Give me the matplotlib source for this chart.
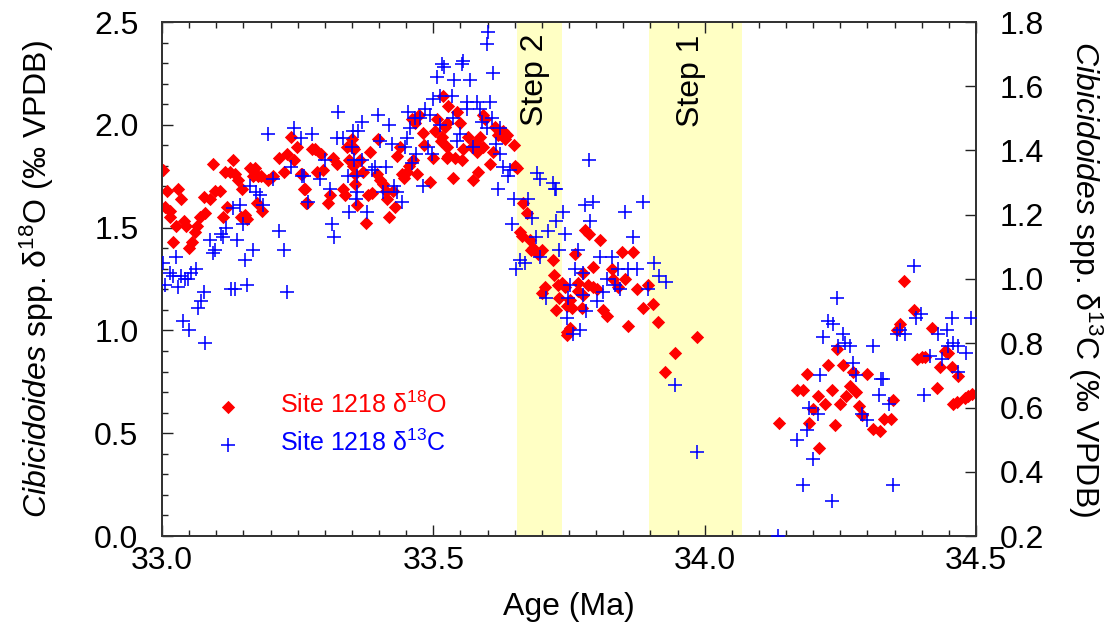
import numpy as np
import matplotlib
matplotlib.use('Agg')
import matplotlib.pyplot as plt
from matplotlib.ticker import MultipleLocator

plt.rcParams['font.family'] = ['Liberation Sans', 'DejaVu Sans']
plt.rcParams['mathtext.fontset'] = 'custom'
plt.rcParams['mathtext.rm'] = 'Liberation Sans'
plt.rcParams['mathtext.it'] = 'Liberation Sans:italic'

# Site 1218 benthic d18O (left axis)
d18o_age = [33.002, 33.01, 33.03, 33.035, 33.005, 33.015, 33.015, 33.025, 33.04, 33.045,
            33.02, 33.06, 33.065, 33.055, 33.05, 33.07, 33.08, 33.077, 33.088, 33.094,
            33.098, 33.107, 33.112, 33.12, 33.116, 33.13, 33.125, 33.135, 33.14, 33.147,
            33.146, 33.153, 33.157, 33.162, 33.171, 33.168, 33.177, 33.182, 33.195, 33.205,
            33.175, 33.184, 33.216, 33.23, 33.225, 33.238, 33.243, 33.249, 33.256, 33.262,
            33.265, 33.276, 33.282, 33.293, 33.297, 33.286, 33.258, 33.264, 33.267, 33.306,
            33.31, 33.315, 33.323, 33.334, 33.337, 33.345, 33.341, 33.35, 33.352, 33.354,
            33.352, 33.356, 33.356, 33.36, 33.365, 33.37, 33.376, 33.383, 33.38, 33.387,
            33.398, 33.396, 33.402, 33.407, 33.413, 33.415, 33.418, 33.426, 33.429, 33.433,
            33.439, 33.442, 33.446, 33.451, 33.455, 33.463, 33.47, 33.461, 33.466, 33.474,
            33.481, 33.483, 33.494, 33.499, 33.503, 33.507, 33.514, 33.518, 33.525, 33.525,
            33.527, 33.521, 33.543, 33.549, 33.516, 33.525, 33.527, 33.54, 33.553, 33.555,
            33.564, 33.571, 33.577, 33.586, 33.58, 33.592, 33.536, 33.573, 33.582, 33.592,
            33.595, 33.604, 33.61, 33.614, 33.619, 33.628, 33.636, 33.632, 33.649, 33.65,
            33.654, 33.665, 33.672, 33.66, 33.663, 33.678, 33.684, 33.68, 33.693, 33.70,
            33.72, 33.722, 33.706, 33.70, 33.729, 33.732, 33.726, 33.746, 33.746, 33.779,
            33.787, 33.807, 33.761, 33.794, 33.848, 33.868, 33.829, 33.831, 33.853, 33.84,
            33.875, 33.896, 33.737, 33.743, 33.767, 33.776, 33.785, 33.794, 33.801, 33.767,
            33.776, 33.752, 33.755, 33.774, 33.813, 33.82, 33.886, 33.905, 33.914, 33.859,
            33.752, 33.746, 33.986, 33.945, 33.927,
            34.137, 34.17, 34.181, 34.189, 34.192, 34.2, 34.209, 34.211, 34.222, 34.227,
            34.235, 34.24, 34.244, 34.249, 34.255, 34.26, 34.268, 34.273, 34.279, 34.284,
            34.29, 34.299, 34.31, 34.323, 34.33, 34.343, 34.347, 34.354, 34.36, 34.367,
            34.386, 34.391, 34.40, 34.406, 34.419, 34.428, 34.434, 34.443, 34.449, 34.456,
            34.458, 34.465, 34.467, 34.48, 34.485, 34.493]
d18o = [1.78, 1.68, 1.69, 1.64, 1.60, 1.58, 1.55, 1.51, 1.53, 1.51,
        1.43, 1.48, 1.51, 1.43, 1.40, 1.55, 1.57, 1.65, 1.64, 1.81,
        1.68, 1.68, 1.55, 1.60, 1.77, 1.83, 1.77, 1.76, 1.73, 1.69,
        1.55, 1.56, 1.54, 1.79, 1.79, 1.75, 1.75, 1.75, 1.73, 1.75,
        1.62, 1.58, 1.84, 1.86, 1.77, 1.94, 1.83, 1.89, 1.76, 1.69,
        1.62, 1.88, 1.88, 1.86, 1.78, 1.77, 1.76, 1.69, 1.62, 1.62,
        1.66, 1.84, 1.81, 1.69, 1.66, 1.83, 1.89, 1.93, 1.89, 1.88,
        1.80, 1.76, 1.71, 1.61, 1.83, 1.77, 1.52, 1.87, 1.66, 1.67,
        1.93, 1.76, 1.73, 1.71, 1.68, 1.64, 1.55, 1.68, 1.60, 1.85,
        1.89, 1.76, 1.74, 1.77, 1.80, 1.83, 1.76, 2.03, 2.01, 2.05,
        1.96, 1.90, 1.72, 1.84, 1.97, 2.03, 1.92, 2.14, 2.01, 1.84,
        2.09, 1.99, 2.06, 2.01, 1.94, 1.89, 1.85, 1.84, 1.83, 1.88,
        1.94, 1.89, 1.91, 1.94, 1.87, 1.89, 1.74, 1.73, 1.77, 2.05,
        2.03, 1.81, 1.87, 1.99, 1.95, 1.97, 1.95, 1.93, 1.90, 1.80,
        1.79, 1.62, 1.57, 1.48, 1.46, 1.44, 1.40, 1.39, 1.37, 1.39,
        1.34, 1.27, 1.21, 1.18, 1.22, 1.16, 1.10, 1.12, 0.99, 1.49,
        1.47, 1.44, 1.37, 1.31, 1.38, 1.38, 1.30, 1.25, 1.25, 1.21,
        1.20, 1.22, 1.23, 1.21, 1.23, 1.28, 1.22, 1.21, 1.20, 1.19,
        1.17, 1.15, 1.11, 1.11, 1.10, 1.07, 1.11, 1.13, 1.04, 1.02,
        1.01, 0.98, 0.97, 0.89, 0.80,
        0.55, 0.71, 0.71, 0.79, 0.55, 0.62, 0.68, 0.43, 0.64, 0.83,
        0.71, 0.54, 0.91, 0.64, 0.83, 0.68, 0.73, 0.80, 0.70, 0.63,
        0.59, 0.79, 0.52, 0.51, 0.57, 0.57, 0.66, 1.00, 1.03, 1.24,
        1.10, 0.86, 0.87, 0.87, 1.01, 0.72, 0.82, 0.90, 0.89, 0.82,
        0.64, 0.65, 0.78, 0.67, 0.68, 0.69]

# Site 1218 benthic d13C (right axis)
d13c_age = [33.002, 33.005, 33.015, 33.02, 33.026, 33.03, 33.035, 33.042, 33.048, 33.053,
            33.063, 33.039, 33.05, 33.066, 33.072, 33.077, 33.08, 33.088, 33.094, 33.098,
            33.109, 33.112, 33.118, 33.127, 33.135, 33.13, 33.144, 33.138, 33.149, 33.153,
            33.157, 33.168, 33.162, 33.173, 33.18, 33.186, 33.195, 33.205, 33.216, 33.225,
            33.23, 33.243, 33.256, 33.238, 33.262, 33.276, 33.258, 33.291, 33.30, 33.31,
            33.313, 33.317, 33.269, 33.323, 33.325, 33.334, 33.343, 33.345, 33.35, 33.352,
            33.354, 33.361, 33.36, 33.36, 33.358, 33.369, 33.369, 33.378, 33.387, 33.393,
            33.398, 33.402, 33.407, 33.413, 33.418, 33.424, 33.428, 33.433, 33.442, 33.451,
            33.457, 33.448, 33.461, 33.468, 33.481, 33.453, 33.466, 33.476, 33.485, 33.49,
            33.497, 33.494, 33.499, 33.507, 33.516, 33.52, 33.512, 33.512, 33.601, 33.599,
            33.61, 33.553, 33.555, 33.538, 33.568, 33.534, 33.562, 33.562, 33.58, 33.586,
            33.604, 33.608, 33.536, 33.59, 33.599, 33.623, 33.549, 33.543, 33.573, 33.616,
            33.623, 33.628, 33.641, 33.638, 33.619, 33.649, 33.674, 33.691, 33.697, 33.72,
            33.724, 33.726, 33.739, 33.726, 33.682, 33.645, 33.69, 33.711, 33.743, 33.732,
            33.697, 33.66, 33.669, 33.652, 33.707, 33.787, 33.779, 33.794, 33.789, 33.853,
            33.886, 33.868, 33.767, 33.807, 33.829, 33.761, 33.776, 33.82, 33.84, 33.859,
            33.875, 33.907, 33.916, 33.929, 33.835, 33.844, 33.896, 33.752, 33.776, 33.813,
            33.748, 33.801, 33.781, 33.746, 33.77, 33.757, 33.945, 33.986,
            34.135, 34.17, 34.181, 34.189, 34.192, 34.2, 34.209, 34.213, 34.218, 34.227,
            34.237, 34.235, 34.244, 34.246, 34.255, 34.258, 34.268, 34.273, 34.279, 34.29,
            34.299, 34.31, 34.321, 34.325, 34.329, 34.34, 34.347, 34.354, 34.36, 34.369,
            34.386, 34.389, 34.398, 34.404, 34.415, 34.43, 34.437, 34.446, 34.449, 34.456,
            34.458, 34.467, 34.467, 34.481, 34.49]
d13c = [1.05, 0.98, 1.02, 1.01, 1.07, 0.975, 1.01, 1.00, 1.00, 1.02,
        1.03, 0.87, 0.84, 0.91, 0.93, 0.96, 0.80, 1.12, 1.08, 1.09,
        1.14, 1.13, 1.16, 0.97, 0.97, 1.22, 1.23, 1.12, 1.17, 1.06,
        0.98, 1.09, 1.29, 1.27, 1.26, 1.23, 1.45, 1.31, 1.15, 1.09,
        0.96, 1.47, 1.44, 1.35, 1.32, 1.45, 1.32, 1.31, 1.37, 1.28,
        1.17, 1.13, 1.24, 1.44, 1.52, 1.44, 1.32, 1.21, 1.41, 1.46,
        1.37, 1.46, 1.32, 1.27, 1.25, 1.49, 1.37, 1.21, 1.34, 1.35,
        1.51, 1.43, 1.27, 1.35, 1.48, 1.42, 1.29, 1.27, 1.24, 1.44,
        1.47, 1.41, 1.36, 1.39, 1.29, 1.52, 1.50, 1.50, 1.53, 1.41,
        1.39, 1.51, 1.56, 1.63, 1.67, 1.66, 1.57, 1.48, 1.77, 1.73,
        1.64, 1.67, 1.68, 1.62, 1.62, 1.57, 1.55, 1.53, 1.55, 1.53,
        1.55, 1.50, 1.50, 1.49, 1.47, 1.47, 1.45, 1.43, 1.41, 1.42,
        1.39, 1.35, 1.34, 1.32, 1.28, 1.25, 1.25, 1.33, 1.31, 1.30,
        1.28, 1.28, 1.21, 1.18, 1.19, 1.17, 1.13, 1.15, 1.14, 1.09,
        1.07, 1.06, 1.05, 1.03, 0.94, 1.37, 1.23, 1.24, 1.18, 1.21,
        1.24, 1.13, 1.09, 1.07, 1.07, 1.03, 1.02, 1.00, 1.03, 1.03,
        1.03, 1.05, 1.01, 0.99, 0.98, 0.97, 0.97, 0.98, 0.95, 0.96,
        0.94, 0.93, 0.90, 0.88, 0.84, 0.83, 0.67, 0.46,
        0.20, 0.50, 0.36, 0.53, 0.60, 0.44, 0.58, 0.70, 0.82, 0.87,
        0.86, 0.31, 0.94, 0.79, 0.83, 0.80, 0.79, 0.74, 0.70, 0.58,
        0.56, 0.79, 0.64, 0.69, 0.69, 0.61, 0.36, 0.83, 0.84, 0.83,
        1.04, 0.88, 0.89, 0.64, 0.76, 0.83, 0.75, 0.84, 0.79, 0.88,
        0.80, 0.79, 0.71, 0.77, 0.88]

step2 = (33.655, 33.737)
step1 = (33.897, 34.069)

fig = plt.figure(figsize=(11.19, 6.30), dpi=100)
ax = fig.add_axes([162/1119, 1-536/630, 814/1119, 514/630])
ax2 = ax.twinx()

band = '#ffffc4'
ax.axvspan(step2[0], step2[1], color=band, lw=0, zorder=0)
ax.axvspan(step1[0], step1[1], color=band, lw=0, zorder=0)
ax.text(sum(step2)/2 - 0.008, 2.445, 'Step 2', rotation=90, ha='center', va='top', fontsize=23)
ax.text(sum(step1)/2 - 0.008, 2.44, 'Step 1', rotation=90, ha='center', va='top', fontsize=23)

h1 = ax.scatter(d18o_age, d18o, marker='D', s=46, color='red', lw=0, zorder=3,
                label='Site 1218 δ$^{18}$O')
h2 = ax2.scatter(d13c_age, d13c, marker='+', s=110, color='blue', lw=1.15, zorder=3,
                 label='Site 1218 δ$^{13}$C')

ax.set_xlim(33.0, 34.5)
ax.set_ylim(0.0, 2.5)
ax2.set_ylim(0.2, 1.8)
ax.set_xticks([33.0, 33.5, 34.0, 34.5])
ax.set_yticks([0.0, 0.5, 1.0, 1.5, 2.0, 2.5])
ax2.set_yticks(np.arange(0.2, 1.81, 0.2))
ax.xaxis.set_minor_locator(MultipleLocator(0.05))
ax.yaxis.set_minor_locator(MultipleLocator(0.1))
ax.xaxis.set_major_formatter(lambda v, p: f'{v:.1f}')
ax.yaxis.set_major_formatter(lambda v, p: f'{v:.1f}')
ax2.yaxis.set_major_formatter(lambda v, p: f'{v:.1f}')

ax.tick_params(which='both', direction='in', top=True, right=False, labelsize=23,
               width=1.0, color='#222222')
ax.tick_params(which='major', length=8)
ax.tick_params(which='minor', length=4.5)
ax.tick_params(axis='y', pad=17)
ax.tick_params(axis='x', pad=7)
ax2.tick_params(direction='in', labelsize=23, length=8, width=1.0, pad=17, color='#222222')
for a in (ax, ax2):
    for s in a.spines.values():
        s.set_linewidth(1.3)
        s.set_color('#333333')

ax.set_xlabel('Age (Ma)', fontsize=23)
ax.xaxis.set_label_coords(0.5, -0.108)
ax.set_ylabel(r'$\it{Cibicidoides}$ spp. δ$^{18}$O (‰ VPDB)', fontsize=23)
ax.yaxis.set_label_coords(-0.13, 0.5)
ax2.set_ylabel(r'$\it{Cibicidoides}$ spp. δ$^{13}$C (‰ VPDB)', fontsize=23,
               rotation=270, va='bottom')
ax2.yaxis.set_label_coords(1.11, 0.5)

leg = ax2.legend(handles=[h1, h2], loc='upper left', bbox_to_anchor=(0.05, 0.28),
                 frameon=False, fontsize=18, scatterpoints=1, handlelength=2,
                 handletextpad=1.1, labelspacing=0.45, borderpad=0, borderaxespad=0,
                 labelcolor=['red', 'blue'])

fig.savefig('out.png', dpi=100)
